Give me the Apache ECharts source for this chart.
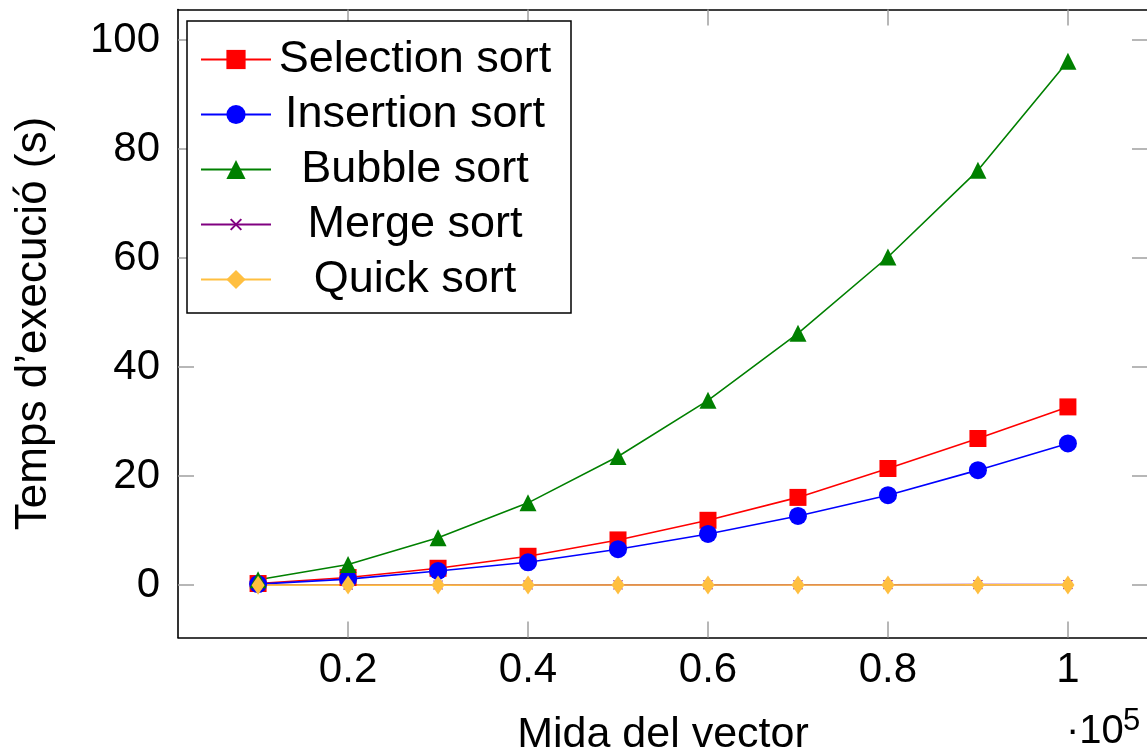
<!DOCTYPE html>
<html>
<head>
<meta charset="utf-8">
<script src="https://cdn.jsdelivr.net/npm/echarts@6/dist/echarts.min.js"></script>
<style>
  html, body { margin: 0; padding: 0; background: #fff; }
  #chart { width: 1147px; height: 749px; }
</style>
</head>
<body>
<div id="chart"></div>
<script>
// vector size (x 10^5)
const sizes = [0.1, 0.2, 0.3, 0.4, 0.5, 0.6, 0.7, 0.8, 0.9, 1.0];
// execution time (s)
const selectionSort = [0.3, 1.4, 3.1, 5.3, 8.3, 11.9, 16.1, 21.4, 26.9, 32.7];
const insertionSort = [0.2, 1.1, 2.6, 4.2, 6.6, 9.4, 12.7, 16.5, 21.1, 26.0];
const bubbleSort = [1.0, 3.8, 8.7, 15.1, 23.6, 33.9, 46.2, 60.2, 76.1, 96.1];
const mergeSort = [0.01, 0.02, 0.03, 0.04, 0.05, 0.06, 0.07, 0.08, 0.1, 0.11];
const quickSort = [0.005, 0.01, 0.015, 0.02, 0.025, 0.03, 0.035, 0.04, 0.045, 0.05];
const xTicks = [0.2, 0.4, 0.6, 0.8, 1];
const yTicks = [0, 20, 40, 60, 80, 100];

const FONT = '"Liberation Sans", Arial, Helvetica, sans-serif';
// small x inside a larger empty box, so it stays small in the legend too
const crossPath = 'path://M-4,-4M0,0L10,10M10,0L0,10M14,14';

let myChart = echarts.init(document.getElementById('chart'));

function mk(name, data, color, symbol, size, extra) {
    return Object.assign({
        name: name,
        type: 'line',
        data: sizes.map((x, i) => [x, data[i]]),
        symbol: symbol,
        symbolSize: size,
        showAllSymbol: true,
        lineStyle: { color: color, width: 1.6 },
        itemStyle: { color: color },
        emphasis: { disabled: true },
        animation: false
    }, extra || {});
}

const tickStyle = { show: true, inside: true, length: 16, lineStyle: { color: '#a0a0a0', width: 1.5 } };
const lineStyle = { show: true, onZero: false, lineStyle: { color: '#000', width: 1.6 } };

myChart.setOption({
    animation: false,
    grid: { left: 178, top: 9.5, width: 970, height: 628, containLabel: false, outerBoundsMode: 'none' },
    legend: {
        left: 187,
        top: 21,
        orient: 'vertical',
        backgroundColor: '#fff',
        borderColor: '#000',
        borderWidth: 1.5,
        padding: [16, 17, 11, 13],
        itemWidth: 70,
        itemHeight: 24,
        itemGap: 10,
        formatter: '{t|{name}}',
        textStyle: {
            fontFamily: FONT,
            fontSize: 45,
            color: '#000',
            rich: { t: { width: 278, align: 'center', fontSize: 45, lineHeight: 46, fontFamily: FONT } }
        },
        data: ['Selection sort', 'Insertion sort', 'Bubble sort', 'Merge sort', 'Quick sort']
    },
    xAxis: [{
        type: 'value',
        min: 0.011,
        max: 1.089,
        name: 'Mida del vector',
        nameLocation: 'middle',
        nameGap: 76,
        nameTextStyle: { fontFamily: FONT, fontSize: 43, color: '#000' },
        axisLine: lineStyle,
        axisTick: Object.assign({ customValues: xTicks }, tickStyle),
        axisLabel: {
            customValues: xTicks,
            formatter: v => String(+v.toFixed(2)),
            fontFamily: FONT, fontSize: 42, color: '#000', margin: 12
        },
        splitLine: { show: false }
    }, {
        type: 'value',
        position: 'top',
        min: 0.011,
        max: 1.089,
        axisLine: lineStyle,
        axisTick: Object.assign({ customValues: xTicks }, tickStyle),
        axisLabel: { show: false },
        splitLine: { show: false }
    }],
    yAxis: [{
        type: 'value',
        min: -9.6,
        max: 105.6,
        name: 'Temps d\u2019execució (s)',
        nameLocation: 'middle',
        nameGap: 122,
        nameTextStyle: { fontFamily: FONT, fontSize: 44, color: '#000' },
        axisLine: lineStyle,
        axisTick: Object.assign({ customValues: yTicks }, tickStyle),
        axisLabel: {
            customValues: yTicks,
            fontFamily: FONT, fontSize: 42, color: '#000', margin: 18
        },
        splitLine: { show: false }
    }, {
        type: 'value',
        position: 'right',
        min: -9.6,
        max: 105.6,
        axisLine: lineStyle,
        axisTick: Object.assign({ customValues: yTicks }, tickStyle),
        axisLabel: { show: false },
        splitLine: { show: false }
    }],
    graphic: [{
        type: 'text',
        left: 1066,
        top: 712,
        style: { text: '·10', font: '40px ' + FONT, fill: '#000' }
    }, {
        type: 'text',
        left: 1123,
        top: 706,
        style: { text: '5', font: '31px ' + FONT, fill: '#000' }
    }],
    series: [
        mk('Selection sort', selectionSort, '#ff0000', 'rect', 17),
        mk('Insertion sort', insertionSort, '#0000ff', 'circle', 18),
        mk('Bubble sort', bubbleSort, '#008000', 'triangle', 17),
        mk('Merge sort', mergeSort, '#800080', crossPath, 16,
            { itemStyle: { color: '#800080', borderColor: '#800080', borderWidth: 1.2 } }),
        mk('Quick sort', quickSort, '#ffbf40', 'diamond', [13, 19])
    ]
});
</script>
</body>
</html>
